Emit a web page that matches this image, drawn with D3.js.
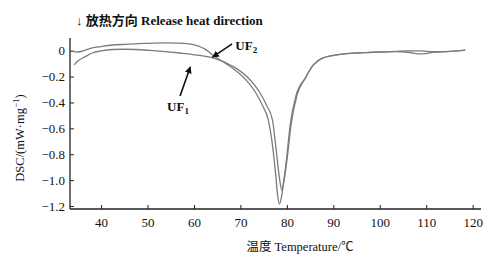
<!DOCTYPE html>
<html>
<head>
<meta charset="utf-8">
<script src="https://cdn.jsdelivr.net/npm/d3@7"></script>
<style>
  body { margin: 0; background: #fff; }
  svg text { font-family: "Liberation Serif", "Noto Sans CJK SC", serif; fill: #111; }
</style>
</head>
<body>
<div id="chart"></div>
<script>
// chart size
var w = 490;
var h = 260;

// data
var xTicks = [40, 50, 60, 70, 80, 90, 100, 110, 120];
var yTicks = [0, -0.2, -0.4, -0.6, -0.8, -1.0, -1.2];

var uf2Temp = [34.0, 35.0, 36.6, 38.1, 40, 42.4, 45.2, 49.5, 53.8, 56.5, 59.0, 61.0, 62.5, 64.1, 66.0, 67.8,
  71.0, 73.2, 74.7, 76.0, 76.9, 77.6, 78.0, 78.4, 78.8, 79.2, 79.9, 80.7, 82.0, 84.0, 85.7, 87.8,
  91.5, 98.6, 103.4, 106, 108.8, 111.6, 115.2, 118.4];
var uf2Dsc = [-0.008, -0.01, 0.005, 0.021, 0.032, 0.044, 0.049, 0.056, 0.06, 0.059, 0.053, 0.036, 0.01, -0.035, -0.08, -0.122,
  -0.219, -0.319, -0.42, -0.536, -0.729, -0.961, -1.115, -1.185, -1.138, -1.04, -0.845, -0.574, -0.342, -0.21, -0.11, -0.056,
  -0.028, -0.012, -0.006, -0.002, -0.002, -0.008, -0.005, 0.005];

var uf1Temp = [34.2, 35.0, 36.6, 38.1, 40, 42.4, 45.2, 50.6, 57.0, 61.3, 64.1, 68.2, 71.7, 74.1, 75.6,
  76.9, 77.7, 78.4, 78.9, 79.4, 80.1, 80.9, 82.2, 84.0, 85.7, 87.8, 91.5, 98.6, 103.4, 106, 108.8,
  111.6, 115.2, 118.4];
var uf1Dsc = [-0.11, -0.08, -0.046, -0.018, -0.002, 0.009, 0.011, 0.002, -0.018, -0.037, -0.056, -0.118, -0.211, -0.319, -0.42,
  -0.536, -0.767, -0.984, -1.077, -1.0, -0.822, -0.574, -0.342, -0.21, -0.11, -0.056, -0.028, -0.012, -0.008, -0.012, -0.025,
  -0.012, -0.006, 0.004];

var xScale = d3.scaleLinear().domain([33.3, 121.8]).range([70, 481]);
var yScale = d3.scaleLinear().domain([-1.223, 0.098]).range([209, 38]);

var svg = d3.select("#chart").append("svg")
  .attr("width", w)
  .attr("height", h);

// arrow head
svg.append("defs").append("marker")
  .attr("id", "head")
  .attr("viewBox", "0 0 10 10")
  .attr("refX", 9).attr("refY", 5)
  .attr("markerWidth", 7).attr("markerHeight", 7)
  .attr("markerUnits", "userSpaceOnUse")
  .attr("orient", "auto")
  .append("path")
  .attr("d", "M0,0L10,5L0,10z")
  .attr("fill", "#111");

// axes
var xAxis = d3.axisBottom(xScale)
  .tickValues(xTicks)
  .tickSize(-4)
  .tickPadding(9)
  .tickFormat(d3.format("d"));

var yAxis = d3.axisLeft(yScale)
  .tickValues(yTicks)
  .tickSize(-4)
  .tickPadding(5)
  .tickFormat(function(d) { return d == 0 ? "0" : "\u2212" + Math.abs(d).toFixed(1); });

var gx = svg.append("g").attr("transform", "translate(0,209)").call(xAxis);
var gy = svg.append("g").attr("transform", "translate(70,0)").call(yAxis);

[gx, gy].forEach(function(g) {
  g.select(".domain").attr("stroke", "#222").attr("stroke-width", 1.3);
  g.selectAll(".tick line").attr("stroke", "#222");
  g.selectAll(".tick text").style("font-size", "13px").attr("fill", "#111");
});
gx.select(".domain").attr("d", "M70,0H481");
gy.select(".domain").attr("d", "M0,209V38");

// curves
var line = d3.line()
  .x(function(d) { return xScale(d[0]); })
  .y(function(d) { return yScale(d[1]); })
  .curve(d3.curveMonotoneX);

var series = [
  d3.zip(uf1Temp, uf1Dsc),
  d3.zip(uf2Temp, uf2Dsc)
];

svg.selectAll("path.curve")
  .data(series)
  .enter()
  .append("path")
  .attr("class", "curve")
  .attr("d", line)
  .attr("fill", "none")
  .attr("stroke", "#7c7c7c")
  .attr("stroke-width", 1.3);

// annotations
svg.append("line")
  .attr("x1", xScale(68.2)).attr("y1", yScale(0.052))
  .attr("x2", xScale(64.0)).attr("y2", yScale(-0.05))
  .attr("stroke", "#111").attr("stroke-width", 1.6)
  .attr("marker-end", "url(#head)");

svg.append("line")
  .attr("x1", xScale(57.0)).attr("y1", yScale(-0.35))
  .attr("x2", xScale(59.2)).attr("y2", yScale(-0.126))
  .attr("stroke", "#111").attr("stroke-width", 1.6)
  .attr("marker-end", "url(#head)");

var uf2 = svg.append("text")
  .attr("x", xScale(68.9)).attr("y", yScale(0.005))
  .style("font-size", "13px").style("font-weight", "bold");
uf2.append("tspan").text("UF");
uf2.append("tspan").attr("dy", 3).style("font-size", "9px").text("2");

var uf1 = svg.append("text")
  .attr("x", xScale(54.2)).attr("y", yScale(-0.466))
  .style("font-size", "13px").style("font-weight", "bold");
uf1.append("tspan").text("UF");
uf1.append("tspan").attr("dy", 3).style("font-size", "9px").text("1");

// title
svg.append("text")
  .attr("x", 76).attr("y", 25)
  .style("font-size", "13px").style("font-weight", "bold")
  .text("\u2193 放热方向 Release heat direction");

// axis labels
svg.append("text")
  .attr("x", 300).attr("y", 251)
  .attr("text-anchor", "middle")
  .style("font-size", "12.5px")
  .text("温度 Temperature/\u2103");

var yl = svg.append("text")
  .attr("transform", "translate(24,138) rotate(-90)")
  .attr("text-anchor", "middle")
  .style("font-size", "12.5px");
yl.append("tspan").text("DSC/(mW\u00b7mg");
yl.append("tspan").attr("dy", -5).style("font-size", "9px").text("\u22121");
yl.append("tspan").attr("dy", 5).text(")");
</script>
</body>
</html>
